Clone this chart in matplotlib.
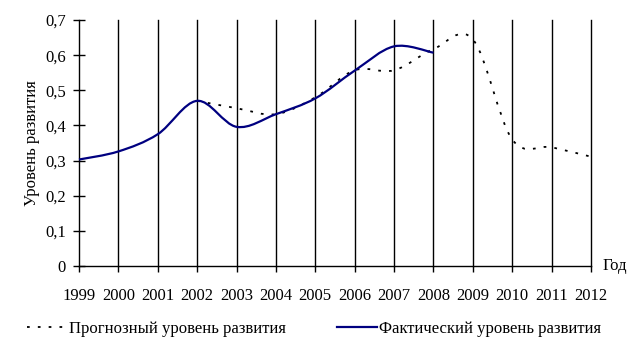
import matplotlib
matplotlib.use("Agg")
import matplotlib.pyplot as plt
import numpy as np
from matplotlib.path import Path
from matplotlib.patches import PathPatch
from matplotlib.lines import Line2D

# Data
years = list(range(1999, 2013))
fact_years = [1999, 2000, 2001, 2002, 2003, 2004, 2005, 2006, 2007, 2008]
fact_values = [0.303, 0.326, 0.375, 0.470, 0.396, 0.432, 0.477, 0.556, 0.625, 0.607]
forecast_years = [2002, 2003, 2004, 2005, 2006, 2007, 2008, 2009, 2010, 2011, 2012]
forecast_values = [0.470, 0.449, 0.432, 0.480, 0.557, 0.557, 0.617, 0.645, 0.360, 0.338, 0.311]
y_ticks = [0, 0.1, 0.2, 0.3, 0.4, 0.5, 0.6, 0.7]
y_labels = ["0", "0,1", "0,2", "0,3", "0,4", "0,5", "0,6", "0,7"]

plt.rcParams['font.family'] = ['Liberation Serif', 'DejaVu Serif']


def smooth_path(xs, ys):
    # Excel-like smoothed line: Bezier segments with Catmull-Rom handles
    pts = np.column_stack([xs, ys]).astype(float)
    n = len(pts)
    verts = [pts[0]]
    codes = [Path.MOVETO]
    for i in range(n - 1):
        p0 = pts[i - 1] if i > 0 else pts[i]
        p1 = pts[i]
        p2 = pts[i + 1]
        p3 = pts[i + 2] if i + 2 < n else pts[i + 1]
        c1 = p1 + (p2 - p0) / 6.0
        c2 = p2 - (p3 - p1) / 6.0
        verts += [c1, c2, p2]
        codes += [Path.CURVE4] * 3
    return Path(verts, codes)


fig = plt.figure(figsize=(6.42, 3.54), dpi=100)
ax = fig.add_axes([79 / 642, 88 / 354, 512 / 642, 246 / 354])

ax.set_xlim(1999, 2012)
ax.set_ylim(0, 0.7)

# vertical grid at every year
for yr in years[1:]:
    ax.axvline(yr, color='black', lw=1.0, zorder=1, clip_on=False)

ax.add_patch(PathPatch(smooth_path(forecast_years, forecast_values), fill=False,
                       edgecolor='black', lw=1.3, linestyle=(0, (1.5, 4.5)), zorder=3,
                       clip_on=False))
ax.add_patch(PathPatch(smooth_path(fact_years, fact_values), fill=False,
                       edgecolor='#000080', lw=1.6, zorder=4, clip_on=False))

for side in ['top', 'right']:
    ax.spines[side].set_visible(False)
ax.spines['left'].set_linewidth(1.0)
ax.spines['bottom'].set_linewidth(1.0)

ax.set_xticks(years)
ax.set_xticklabels([str(y) for y in years], fontsize=12)
ax.tick_params(axis='x', direction='out', length=4, width=1.0, pad=12)
ax.set_yticks(y_ticks)
ax.set_yticklabels(y_labels, fontsize=12)
ax.tick_params(axis='y', direction='inout', length=9, width=1.0, pad=5)

ax.set_ylabel("Уровень развития", fontsize=12, labelpad=4)
ax.text(1.023, 0.0, "Год", transform=ax.transAxes, fontsize=12,
        ha='left', va='center')

handles = [
    Line2D([], [], color='black', lw=1.3, linestyle=(0, (1.5, 4.5))),
    Line2D([], [], color='#000080', lw=1.6),
]
fig.legend(handles, ["Прогнозный уровень развития", "Фактический уровень развития"],
           loc='center left', bbox_to_anchor=(27 / 642, 25 / 354), ncol=2,
           frameon=False, fontsize=12, handlelength=2.4, handletextpad=0.1,
           columnspacing=3.1, borderaxespad=0, borderpad=0)

fig.savefig("out.png", dpi=100)
